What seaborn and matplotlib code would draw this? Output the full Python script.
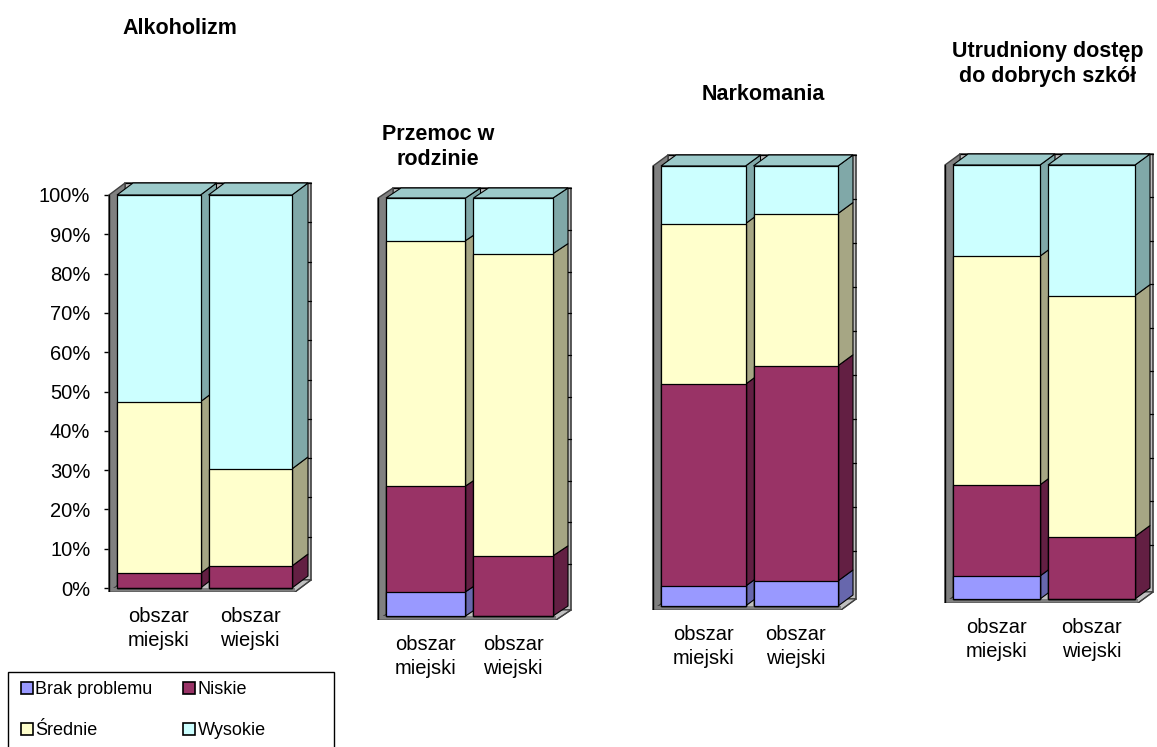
import numpy as np
import pandas as pd
import matplotlib
matplotlib.use("Agg")
import matplotlib.pyplot as plt
import seaborn as sns
from matplotlib.patches import Polygon, Patch, Rectangle

# ---------------- data ----------------
categories = ["obszar\nmiejski", "obszar\nwiejski"]
levels = ["Brak problemu", "Niskie", "Średnie", "Wysokie"]
titles = ["Alkoholizm", "Przemoc w\nrodzinie", "Narkomania",
          "Utrudniony dostęp\ndo dobrych szkół"]

brak    = [[0.0, 0.0], [5.8, 0.0], [4.5, 5.7], [5.3, 0.0]]
niskie  = [[3.7, 5.6], [25.3, 14.4], [45.9, 48.9], [21.0, 14.4]]
srednie = [[43.7, 24.7], [58.7, 72.3], [36.5, 34.6], [52.7, 55.5]]
wysokie = [[52.6, 69.7], [10.2, 13.3], [13.1, 10.8], [21.0, 30.1]]

yticks = [0, 10, 20, 30, 40, 50, 60, 70, 80, 90, 100]
ytick_labels = ["0%", "10%", "20%", "30%", "40%", "50%", "60%", "70%", "80%", "90%", "100%"]

# ---------------- style ----------------
sns.set_style("white")
plt.rcParams['font.family'] = ['Liberation Sans', 'DejaVu Sans']
plt.rcParams['text.color'] = 'black'
plt.rcParams['xtick.color'] = 'black'
plt.rcParams['ytick.color'] = 'black'
plt.rcParams['axes.labelcolor'] = 'black'

front = {"Brak problemu": "#9999FF", "Niskie": "#993366",
         "Średnie": "#FFFFCC", "Wysokie": "#CCFFFF"}
side = {"Brak problemu": "#6767AD", "Niskie": "#631F43",
        "Średnie": "#A6A684", "Wysokie": "#80A8A8"}
topc = {"Brak problemu": "#8080D0", "Niskie": "#7A2850",
        "Średnie": "#D0D0A8", "Wysokie": "#9CCACA"}

W, H = 1157, 747
fig = plt.figure(figsize=(W / 100, H / 100), dpi=100)
fig.patch.set_facecolor("white")

# panel geometry in pixels (layout only)
geom = [
    dict(L=117, R=292, bottom=588, top=195, dx=16, dy=12),
    dict(L=386, R=553, bottom=616, top=198, dx=15, dy=10),
    dict(L=661, R=838, bottom=606, top=166, dx=15, dy=11),
    dict(L=953, R=1135, bottom=599, top=165, dx=15, dy=11),
]
title_pos = [(180, 28), (438, 147), (763, 94), (1048, 64)]
GAP, FLOOR, WALL = 8, 4, 8
series = {"Brak problemu": brak, "Niskie": niskie, "Średnie": srednie, "Wysokie": wysokie}

for p in range(4):
    g = geom[p]
    bw = (g['R'] - g['L'] - GAP) / 2
    unit = bw + GAP
    w = bw / unit
    hpx = g['bottom'] - g['top']

    def xd(px):
        return (px - g['L']) / unit - w / 2

    def yd(py):
        return (g['bottom'] - py) / hpx * 100

    Lax = g['L'] - WALL - 10
    Rax = g['R'] + g['dx'] + 10
    Tax = g['top'] - g['dy'] - 6
    Bax = g['bottom'] + FLOOR
    ax = fig.add_axes([Lax / W, 1 - Bax / H, (Rax - Lax) / W, (Bax - Tax) / H])
    ax.patch.set_alpha(0)

    df = pd.DataFrame({"kat": categories})
    for lvl in levels:
        df[lvl] = series[lvl][p]
    cum = df[levels].cumsum(axis=1)
    cum["kat"] = categories

    # front faces via seaborn (largest cumulative first)
    for lvl in reversed(levels):
        sns.barplot(data=cum, x="kat", y=lvl, color=front[lvl], saturation=1,
                    width=w, edgecolor="black", linewidth=0.9, errorbar=None,
                    ax=ax, zorder=3)

    ddx = g['dx'] / unit
    ddy = g['dy'] / hpx * 100
    xwall = xd(g['L'] - WALL)
    xend = xd(g['R'] + 3)
    yfl = yd(Bax)

    # back wall, gridlines, left wall, floor
    ax.add_patch(Polygon([(xwall + ddx, yfl + ddy), (xend + ddx, yfl + ddy),
                          (xend + ddx, 100 + ddy), (xwall + ddx, 100 + ddy)],
                         closed=True, fc="#C0C0C0", ec="#404040", lw=1.2, zorder=0.5))
    for v in yticks[1:]:
        ax.plot([xwall + ddx, xend + ddx], [v + ddy, v + ddy], color="black", lw=0.9, zorder=0.6)
    ax.add_patch(Polygon([(xwall, yfl), (xwall + ddx, yfl + ddy),
                          (xwall + ddx, 100 + ddy), (xwall, 100)],
                         closed=True, fc="#808080", ec="#404040", lw=1, zorder=0.7))
    ax.add_patch(Polygon([(xwall, yfl), (xend, yfl), (xend + ddx, yfl + ddy), (xwall + ddx, yfl + ddy)],
                         closed=True, fc="#C0C0C0", ec="#404040", lw=0.8, zorder=0.8))
    ax.add_patch(Rectangle((xwall, yfl), xend - xwall, -yfl, fc="#808080", ec="none", zorder=0.85))
    ax.plot([xwall, xend], [yfl, yfl], color="black", lw=1, zorder=1)
    ax.plot([xend, xend + ddx], [yfl, yfl + ddy], color="#404040", lw=1, zorder=1)
    ax.plot([xwall, xwall], [yfl, 100], color="black", lw=1, zorder=1)

    # side and top faces
    for i in range(2):
        xr = i + w / 2
        xl = i - w / 2
        base = 0.0
        last = None
        for lvl in levels:
            v = series[lvl][p][i]
            if v <= 0:
                continue
            t = base + v
            ax.add_patch(Polygon([(xr, base), (xr + ddx, base + ddy), (xr + ddx, t + ddy), (xr, t)],
                                 closed=True, fc=side[lvl], ec="black", lw=0.8, zorder=2 + i * 0.1))
            base = t
            last = lvl
        ax.add_patch(Polygon([(xl, base), (xl + ddx, base + ddy), (xr + ddx, base + ddy), (xr, base)],
                             closed=True, fc=topc[last], ec="black", lw=0.8, zorder=2.05 + i * 0.1))

    ax.set_xlim(xd(Lax), xd(Rax))
    ax.set_ylim(yfl, yd(Tax))
    for s in ax.spines.values():
        s.set_visible(False)
    ax.set_xlabel("")
    ax.set_ylabel("")

    ax.set_xticks([0, 1], categories)
    ax.set_xticks([xd(g['L'] - 7), xd(g['L'] + bw + 1), xd(g['R'] + 1)], minor=True)
    ax.tick_params(axis="x", which="major", length=0, pad=11, labelsize=14.5, labelcolor="black")
    ax.tick_params(axis="x", which="minor", length=4, width=1, direction="out", color="black")
    for lab in ax.get_xticklabels():
        lab.set_linespacing(1.3)

    ax.spines['left'].set_position(('data', xwall))
    if p == 0:
        ax.set_yticks(yticks, ytick_labels)
        ax.tick_params(axis="y", length=7, width=1, direction="inout", pad=10,
                       labelsize=14.5, color="black", labelcolor="black", left=True)
    else:
        ax.set_yticks(yticks, [""] * len(yticks))
        ax.tick_params(axis="y", length=4, width=1, direction="in", color="black", left=True)

    tx, ty = title_pos[p]
    fig.text(tx / W, 1 - ty / H, titles[p], ha="center", va="center", color="black",
             fontsize=15.5, fontweight="bold", linespacing=1.2)

# legend (row-wise order like the reference)
fig.patches.append(Rectangle((8 / W, 1 - 760 / H), (334 - 8) / W, (760 - 672) / H,
                             transform=fig.transFigure, fc="white", ec="black", lw=1, zorder=5))
leg_order = ["Brak problemu", "Średnie", "Niskie", "Wysokie"]
handles = [Patch(facecolor=front[l], edgecolor="black", linewidth=1.2) for l in leg_order]
leg = fig.legend(handles, leg_order, loc="upper left", bbox_to_anchor=(21 / W, 1 - 681 / H),
                 ncol=2, frameon=False, fontsize=13, handlelength=0.65, handleheight=0.65,
                 handletextpad=0.15, columnspacing=1.7, labelspacing=1.35, borderpad=0,
                 borderaxespad=0, labelcolor="black")
leg.set_zorder(6)

fig.savefig("out.png", dpi=100, facecolor="white")
